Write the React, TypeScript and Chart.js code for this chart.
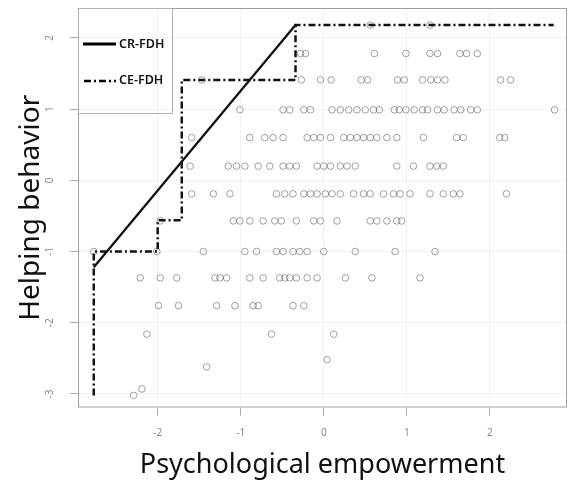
import React, { useEffect, useRef } from "react";
import { Chart, registerables } from "chart.js";

Chart.register(...registerables);

// Observed data: x positions grouped by helping-behavior level
const yLevels = [2.18, 1.78, 1.41, 0.99, 0.6, 0.2, -0.19, -0.57, -1.0, -1.37, -1.76, -2.16, -2.52, -2.62, -2.93, -3.02];
const xAtLevel0 = [0.56, 1.28];
const xAtLevel1 = [-0.28, -0.22, 0.61, 0.99, 1.28, 1.37, 1.64, 1.72, 1.85];
const xAtLevel2 = [-1.47, -0.27, -0.04, 0.09, 0.45, 0.53, 0.89, 0.97, 1.19, 1.29, 1.37, 1.46, 2.13, 2.25];
const xAtLevel3 = [-1.01, -0.49, -0.41, -0.24, -0.16, 0.1, 0.2, 0.3, 0.4, 0.5, 0.6, 0.67, 0.85, 0.91, 0.99, 1.09, 1.19, 1.25, 1.37, 1.45, 1.57, 1.65, 1.77, 1.85, 2.78];
const xAtLevel4 = [-1.59, -0.89, -0.71, -0.61, -0.49, -0.2, -0.12, -0.04, 0.08, 0.24, 0.32, 0.4, 0.48, 0.56, 0.64, 0.76, 0.88, 1.2, 1.6, 1.68, 2.12, 2.18];
const xAtLevel5 = [-1.61, -1.15, -1.05, -0.95, -0.79, -0.65, -0.49, -0.41, -0.33, -0.08, 0.0, 0.08, 0.2, 0.28, 0.38, 0.88, 1.08, 1.28, 1.36, 1.44];
const xAtLevel6 = [-1.59, -1.33, -1.13, -0.57, -0.47, -0.37, -0.24, -0.16, -0.08, 0.02, 0.1, 0.2, 0.36, 0.48, 0.56, 0.72, 0.84, 0.92, 1.04, 1.28, 1.44, 1.56, 1.64, 2.2];
const xAtLevel7 = [-1.97, -1.09, -1.01, -0.89, -0.73, -0.59, -0.51, -0.33, -0.12, -0.04, 0.16, 0.56, 0.64, 0.76, 0.88, 0.94];
const xAtLevel8 = [-2.77, -2.01, -1.45, -0.95, -0.81, -0.57, -0.49, -0.37, -0.29, -0.2, 0.0, 0.38, 0.86, 1.34];
const xAtLevel9 = [-2.21, -1.97, -1.77, -1.31, -1.25, -1.17, -0.89, -0.73, -0.53, -0.47, -0.41, -0.33, -0.2, -0.08, 0.26, 0.58, 1.16];
const xAtLevel10 = [-1.99, -1.75, -1.29, -1.07, -0.85, -0.79, -0.37, -0.24];
const xAtLevel11 = [-2.13, -0.63, 0.12];
const xAtLevel12 = [0.04];
const xAtLevel13 = [-1.41];
const xAtLevel14 = [-2.19];
const xAtLevel15 = [-2.29];

const xByLevel = [
  xAtLevel0, xAtLevel1, xAtLevel2, xAtLevel3, xAtLevel4, xAtLevel5, xAtLevel6, xAtLevel7,
  xAtLevel8, xAtLevel9, xAtLevel10, xAtLevel11, xAtLevel12, xAtLevel13, xAtLevel14, xAtLevel15,
];

// Frontier lines
const ceFdhX = [-2.77, -2.77, -2.0, -2.0, -1.71, -1.71, -0.34, -0.34, 2.77];
const ceFdhY = [-3.02, -1.0, -1.0, -0.56, -0.56, 1.41, 1.41, 2.18, 2.18];
const crFdhX = [-2.77, -0.34];
const crFdhY = [-1.22, 2.18];

const xTicks = [-2, -1, 0, 1, 2];
const yTicks = [-3, -2, -1, 0, 1, 2];
const legendLabels = ["CR-FDH", "CE-FDH"];

const FONT = '"Noto Sans", "Open Sans", sans-serif';
const CE_DASH = [7, 3, 2, 3];

const boxAndLegend = {
  id: "boxAndLegend",
  afterDraw(chart: any) {
    const { ctx, chartArea } = chart;
    const { left, top, right, bottom } = chartArea;
    ctx.save();
    // full frame
    ctx.strokeStyle = "#a0a0a0";
    ctx.lineWidth = 1;
    ctx.setLineDash([]);
    ctx.strokeRect(left + 0.5, top + 0.5, right - left - 1, bottom - top - 1);
    // y tick labels, rotated like the reference (read bottom to top)
    const yScale = chart.scales.y;
    ctx.font = `10px ${FONT}`;
    ctx.fillStyle = "#888";
    ctx.textAlign = "center";
    ctx.textBaseline = "middle";
    yTicks.forEach((v) => {
      const py = yScale.getPixelForValue(v);
      ctx.save();
      ctx.translate(left - 28, py);
      ctx.rotate(-Math.PI / 2);
      ctx.fillText(String(v), 0, 0);
      ctx.restore();
    });
    // legend box
    const lx = left, ly = top, lw = 94, lh = 105;
    ctx.strokeStyle = "#b0b0b0";
    ctx.strokeRect(lx + 0.5, ly + 0.5, lw, lh);
    ctx.font = `600 12.5px ${FONT}`;
    ctx.fillStyle = "#111";
    ctx.textBaseline = "middle";
    ctx.textAlign = "left";
    // solid
    ctx.strokeStyle = "#000";
    ctx.lineWidth = 3;
    ctx.beginPath();
    ctx.moveTo(lx + 5, ly + 36);
    ctx.lineTo(lx + 38, ly + 36);
    ctx.stroke();
    ctx.fillText(legendLabels[0], lx + 41, ly + 36);
    // dash-dot
    ctx.lineWidth = 2.5;
    ctx.setLineDash(CE_DASH);
    ctx.beginPath();
    ctx.moveTo(lx + 6, ly + 73);
    ctx.lineTo(lx + 38, ly + 73);
    ctx.stroke();
    ctx.setLineDash([]);
    ctx.fillText(legendLabels[1], lx + 41, ly + 72);
    ctx.restore();
  },
};

export default function App() {
  const ref = useRef<HTMLCanvasElement | null>(null);

  useEffect(() => {
    document.body.style.margin = "0";
    const canvas = ref.current;
    if (!canvas) return;

    const points: { x: number; y: number }[] = [];
    xByLevel.forEach((xs, i) => xs.forEach((x) => points.push({ x, y: yLevels[i] })));

    const chart = new Chart(canvas, {
      type: "scatter",
      data: {
        datasets: [
          {
            label: "observations",
            data: points,
            pointRadius: 3.3,
            pointBorderWidth: 1,
            pointBorderColor: "rgba(70,70,70,0.5)",
            pointBackgroundColor: "rgba(0,0,0,0)",
            showLine: false,
          },
          {
            label: legendLabels[1],
            data: ceFdhX.map((x, i) => ({ x, y: ceFdhY[i] })),
            showLine: true,
            borderColor: "#111",
            borderWidth: 2.5,
            borderDash: CE_DASH,
            pointRadius: 0,
            fill: false,
          },
          {
            label: legendLabels[0],
            data: crFdhX.map((x, i) => ({ x, y: crFdhY[i] })),
            showLine: true,
            borderColor: "#111",
            borderWidth: 2.3,
            pointRadius: 0,
            fill: false,
          },
        ],
      },
      options: {
        responsive: false,
        animation: false,
        layout: { padding: { left: 17, right: 11, top: 8, bottom: 6.5 } },
        plugins: { legend: { display: false }, tooltip: { enabled: false } },
        scales: {
          x: {
            type: "linear",
            min: -2.96,
            max: 2.93,
            afterBuildTicks: (s: any) => { s.ticks = xTicks.map((v) => ({ value: v })); },
            ticks: { includeBounds: false, color: "#888", font: { size: 10, family: FONT }, padding: 12 },
            grid: { color: "rgba(0,0,0,0.05)", tickColor: "#aaa", tickLength: 8, drawTicks: true },
            border: { display: false },
            title: {
              display: true,
              text: "Psychological empowerment",
              color: "#111",
              font: { size: 27, family: FONT, lineHeight: 1 },
              padding: { top: 0, bottom: 0 },
            },
          },
          y: {
            type: "linear",
            min: -3.19,
            max: 2.42,
            afterBuildTicks: (s: any) => { s.ticks = yTicks.map((v) => ({ value: v })); },
            ticks: { includeBounds: false, display: false },
            grid: { color: "rgba(0,0,0,0.05)", tickColor: "#aaa", tickLength: 8, drawTicks: true },
            border: { display: false },
            title: {
              display: true,
              text: "Helping behavior",
              color: "#111",
              font: { size: 28, family: FONT, lineHeight: 1 },
              padding: { top: 0, bottom: 25 },
            },
          },
        },
      },
      plugins: [boxAndLegend],
    });
    return () => chart.destroy();
  }, []);

  return <canvas ref={ref} width={578} height={485} style={{ display: "block" }} />;
}
